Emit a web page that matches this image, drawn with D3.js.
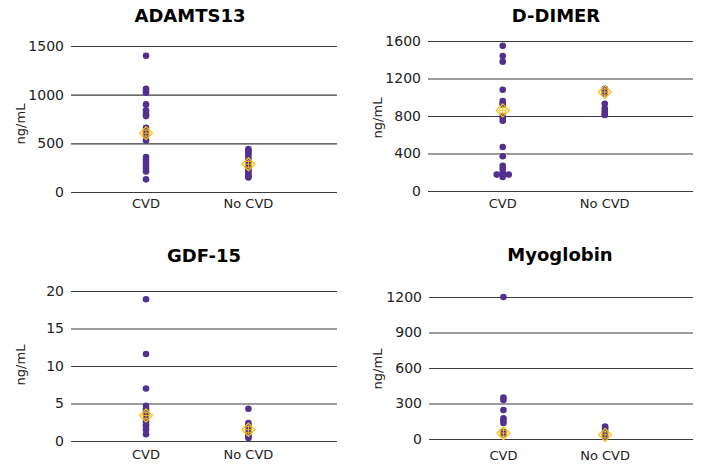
<!DOCTYPE html>
<html>
<head>
<meta charset="utf-8">
<script src="https://cdn.jsdelivr.net/npm/d3@7"></script>
<style>
  body { margin: 0; background: #fff; }
  text { font-family: "DejaVu Sans", Verdana, sans-serif; }
</style>
</head>
<body>
<script>
var categories = ["CVD", "No CVD"];
var titles = ["ADAMTS13", "D-DIMER", "GDF-15", "Myoglobin"];
var unitLabel = "ng/mL";

var yTicks = [
    [0, 500, 1000, 1500],
    [0, 400, 800, 1200, 1600],
    [0, 5, 10, 15, 20],
    [0, 300, 600, 900, 1200]
];

// measured values, one list per group
var adamtsCvd = [1400, 1060, 1040, 1020, 900, 840, 800, 780, 660, 620, 580, 530, 360, 330, 300, 270, 240, 210, 130];
var adamtsNoCvd = [440, 420, 400, 380, 350, 320, 300, 280, 260, 240, 220, 200, 180, 160, 150];
var ddimerCvd = [1550, 1440, 1380, 1080, 960, 940, 920, 800, 780, 750, 470, 370, 270, 240, 200, 175, 175, 175, 150];
var ddimerNoCvd = [1090, 1075, 1060, 1040, 930, 880, 850, 820, 810];
var gdfCvd = [18.9, 11.6, 7.0, 4.7, 4.3, 4.0, 3.6, 3.0, 2.6, 2.2, 1.9, 1.5, 0.9];
var gdfNoCvd = [4.3, 2.4, 2.1, 1.8, 1.5, 1.2, 0.9, 0.6, 0.4];
var myoCvd = [1200, 350, 330, 245, 175, 155, 135, 60, 50, 45, 40];
var myoNoCvd = [105, 95, 80, 60, 40, 30, 20];

// group means (yellow markers)
var adamtsMeans = [605, 285];
var ddimerMeans = [860, 1055];
var gdfMeans = [3.4, 1.5];
var myoMeans = [50, 35];

var groups = [
    [adamtsCvd, adamtsNoCvd],
    [ddimerCvd, ddimerNoCvd],
    [gdfCvd, gdfNoCvd],
    [myoCvd, myoNoCvd]
];
var means = [adamtsMeans, ddimerMeans, gdfMeans, myoMeans];

// panel layout (pixels)
var panels = [
    {x0: 71, x1: 337, yTop: 46, yBottom: 192, titleX: 190, titleY: 22, catY: 208, labelX: 21, labelY: 124},
    {x0: 428, x1: 693, yTop: 41, yBottom: 191, titleX: 556, titleY: 22, catY: 208, labelX: 378, labelY: 118},
    {x0: 71, x1: 337, yTop: 291, yBottom: 441, titleX: 204, titleY: 262, catY: 459, labelX: 21, labelY: 365},
    {x0: 429, x1: 693, yTop: 297, yBottom: 439, titleX: 560, titleY: 261, catY: 460, labelX: 378, labelY: 369}
];

var purple = "#52308f";
var gold = "#f7c31a";

var svg = d3.select("body")
    .append("svg")
    .attr("width", 702)
    .attr("height", 465);

panels.forEach(function (p, i) {
    var g = svg.append("g");
    var w = p.x1 - p.x0;
    var ticks = yTicks[i];

    var y = d3.scaleLinear()
        .domain([0, ticks[ticks.length - 1]])
        .range([p.yBottom, p.yTop]);

    var x = d3.scalePoint()
        .domain(categories)
        .range([p.x0 + 0.282 * w, p.x0 + 0.667 * w]);

    // gridlines + tick labels via axis
    var axis = g.append("g")
        .attr("transform", "translate(" + p.x0 + ",0)")
        .call(d3.axisLeft(y).tickValues(ticks).tickSize(-w).tickPadding(7).tickFormat(d3.format("d")));
    axis.select(".domain").remove();
    axis.selectAll(".tick line")
        .attr("stroke", "#3a3a3a")
        .attr("stroke-width", 1.1);
    axis.selectAll(".tick text")
        .attr("font-size", 14)
        .attr("fill", "#222");

    // category labels
    g.selectAll(".cat")
        .data(categories)
        .enter()
        .append("text")
        .attr("x", function (d) { return x(d); })
        .attr("y", p.catY)
        .attr("text-anchor", "middle")
        .attr("font-size", 13)
        .attr("fill", "#222")
        .text(function (d) { return d; });

    // title
    g.append("text")
        .attr("x", p.titleX)
        .attr("y", p.titleY)
        .attr("text-anchor", "middle")
        .attr("font-size", 18)
        .attr("font-weight", "bold")
        .attr("fill", "#000")
        .text(titles[i]);

    // y label
    g.append("text")
        .attr("transform", "translate(" + (p.labelX + 4) + "," + p.labelY + ") rotate(-90)")
        .attr("text-anchor", "middle")
        .attr("font-size", 13)
        .attr("fill", "#222")
        .text(unitLabel);

    // points, equal values get nudged sideways
    var pts = [];
    groups[i].forEach(function (vals, c) {
        var seen = {};
        vals.forEach(function (v) {
            var k = seen[v] || 0;
            seen[v] = k + 1;
            var off = k == 0 ? 0 : (k % 2 == 1 ? -6 : 6);
            pts.push({cat: categories[c], value: v, off: off});
        });
    });

    g.selectAll(".pt")
        .data(pts)
        .enter()
        .append("circle")
        .attr("cx", function (d) { return x(d.cat) + d.off; })
        .attr("cy", function (d) { return y(d.value); })
        .attr("r", 3.3)
        .attr("fill", purple);

    // mean markers
    var m = g.selectAll(".mean")
        .data(means[i])
        .enter()
        .append("g")
        .attr("transform", function (d, c) {
            return "translate(" + x(categories[c]) + "," + y(d) + ")";
        });
    m.append("path")
        .attr("d", "M0,-6.5L6.5,0L0,6.5L-6.5,0Z")
        .attr("fill", "none")
        .attr("stroke", gold)
        .attr("stroke-width", 1.3);
    m.append("circle")
        .attr("r", 3.4)
        .attr("fill", "none")
        .attr("stroke", gold)
        .attr("stroke-width", 0.9);
    m.append("path")
        .attr("d", "M-4.5,0H4.5M0,-4.5V4.5")
        .attr("stroke", gold)
        .attr("stroke-width", 0.9);
});
</script>
</body>
</html>
